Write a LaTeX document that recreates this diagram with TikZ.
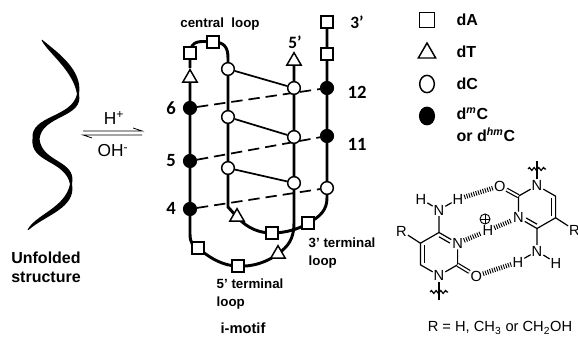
\documentclass[tikz,border=0pt]{standalone}
\usepackage{fontspec}
\setmainfont{Liberation Sans}
\newfontfamily\calib{Carlito}
\usetikzlibrary{shapes.geometric,calc,backgrounds,decorations.pathmorphing}
\tikzset{>=stealth}
\tikzset{
  dA/.style={draw,rectangle,fill=white,line width=1.1pt,minimum size=9pt,inner sep=0pt},
  dT/.style={draw,regular polygon,regular polygon sides=3,fill=white,line width=1.1pt,minimum size=12.5pt,inner sep=0pt},
  dC/.style={draw,circle,fill=white,line width=1.1pt,minimum size=9.5pt,inner sep=0pt},
  dmC/.style={draw,circle,fill=black,line width=1.1pt,minimum size=9.5pt,inner sep=0pt},
  strand/.style={line width=2.2pt},
  lateral/.style={line width=1.3pt},
  pairing/.style={line width=1.3pt,dash pattern=on 8.5pt off 4.5pt},
  atom/.style={inner sep=0.6pt,font=\fontsize{11}{11}\selectfont},
  bond/.style={line width=0.9pt},
  hbond/.style={line width=3.5pt,dash pattern=on 0.7pt off 1.1pt},
  lbl/.style={font=\bfseries\fontsize{10}{13.5}\selectfont,align=left},
  num/.style={font=\calib\bfseries\fontsize{14}{14}\selectfont},
  prime/.style={font=\calib\bfseries\fontsize{13}{13}\selectfont},
}
\begin{document}
\begin{tikzpicture}[x=0.75pt,y=-0.75pt]
\useasboundingbox (0,0) rectangle (578,341);

% unfolded strand
\fill (42.5,40) .. controls (57,52) and (83,70) .. (79,94)
  .. controls (84,118) and (42,115) .. (39.5,139)
  .. controls (42,163) and (77,160) .. (72,184)
  .. controls (76.5,208) and (45.5,215) .. (28.5,230)
  -- (27.5,230) .. controls (34.5,215) and (65.5,208) .. (70,184)
  .. controls (65,160) and (30,163) .. (32.5,139)
  .. controls (30,115) and (72,118) .. (77,94)
  .. controls (73,70) and (47,52) .. (41.5,40) -- cycle;
\node[font=\bfseries\fontsize{12}{14}\selectfont,align=center] (unf) at (46,267) {Unfolded\\structure};

% equilibrium
\coordinate (eqa) at (83,131);
\coordinate (eqb) at (142,131);
\coordinate (eqc) at (142,135);
\coordinate (eqd) at (83,135);
\draw[line width=0.6pt] (eqa) -- (eqb) -- ++(-9,-3);
\draw[line width=0.6pt] (eqc) -- (eqd) -- ++(9,3);
\node[font=\fontsize{13}{13}\selectfont] (hplus) at (114,118) {H\textsuperscript{+}};
\node[font=\fontsize{13}{13}\selectfont] (ohminus) at (113,151) {OH\textsuperscript{-}};

% i-motif: strand 1
\node[dA] (a1) at (190,53) {};
\node[dT] (t1) at (190,78) {};
\node[dmC] (m6) at (190,108) {};
\node[dmC] (m5) at (190,161) {};
\node[dmC] (m4) at (190,209) {};
% 5' terminal loop
\node[dA] (a2) at (198,248) {};
\node[dA] (a3) at (238,266) {};
\node[dT] (t2) at (278,254) {};
% central loop and strand 2
\node[dA] (a4) at (213,42) {};
\node[dC] (c1) at (228,69) {};
\node[dC] (c2) at (228,117) {};
\node[dC] (c3) at (228,168) {};
\node[dT] (t3) at (237,217) {};
% 3' terminal loop
\node[dA] (a5) at (272,233) {};
\node[dA] (a6) at (308,223) {};
% strand 3
\node[dT] (t5) at (294,61) {};
\node[dC] (c6) at (294,88) {};
\node[dC] (c5) at (294,137) {};
\node[dC] (c4) at (294,183) {};
% strand 4
\node[dC] (c7) at (327,188) {};
\node[dmC] (m11) at (327,136) {};
\node[dmC] (m12) at (327,88) {};
\node[dA] (a7) at (327,54) {};
\node[dA] (a8) at (327,22) {};

\begin{scope}[on background layer]
\draw[strand] (t5) -- (c6) -- (c5) -- (c4) -- (294,222)
  .. controls (294,240) and (288,246) .. (t2.center)
  .. controls (268,261) and (255,267) .. (a3.center)
  .. controls (225,266) and (212,260) .. (a2.center)
  .. controls (193,246) and (190,243) .. (190,234) -- (m4) -- (m5) -- (m6) -- (t1) -- (a1.center)
  .. controls (191,40) and (200,41) .. (a4.center)
  .. controls (224,42) and (228,47) .. (228,58) -- (c1) -- (c2) -- (c3) -- (228,207) -- (t3.center)
  .. controls (248,229) and (260,233) .. (a5.center)
  .. controls (285,233) and (300,229) .. (a6.center)
  .. controls (320,217) and (327,210) .. (327,198) -- (c7) -- (m11) -- (m12) -- (a7) -- (a8);
\draw[lateral] (c1) -- (c6);
\draw[lateral] (c2) -- (c5);
\draw[lateral] (c3) -- (c4);
\draw[pairing] (m6) -- (m12);
\draw[pairing] (m5) -- (m11);
\draw[pairing] (m4) -- (c7);
\end{scope}

\node[num] (n6) at (171,108) {6};
\node[num] (n5) at (171,161) {5};
\node[num] (n4) at (171,208) {4};
\node[num] (n12) at (357,92) {12};
\node[num] (n11) at (357,144) {11};
\node[prime] (five) at (295,42) {5’};
\node[prime] (three) at (357,22) {3’};
\node[font=\bfseries\fontsize{10}{10}\selectfont] (cloop) at (220,24) {central\ \ loop};
\node[lbl,anchor=west] (tl3) at (304,253) {3’ terminal\\loop};
\node[lbl,anchor=west] (tl5) at (212,294) {5’ terminal\\loop};
\node[font=\bfseries\fontsize{11}{11}\selectfont] (imotif) at (243,328) {i-motif};

% legend
\node[dA,minimum size=11pt] (ka) at (427,20) {};
\node[dT,minimum size=15pt] (kt) at (427,53) {};
\node[draw,ellipse,line width=1.1pt,minimum width=11pt,minimum height=13pt,inner sep=0pt] (kc) at (427,84) {};
\node[draw,ellipse,fill=black,line width=1.1pt,minimum width=11pt,minimum height=13pt,inner sep=0pt] (km) at (427,116) {};
\begin{scope}[every node/.style={anchor=west,font=\bfseries\fontsize{12}{12}\selectfont}]
\node (la) at (452,20) {dA};
\node (lt) at (452,52) {dT};
\node (lc) at (452,84) {dC};
\node (lm) at (452,114) {d\textsuperscript{\itshape m}C};
\node (lhm) at (452,135) {or d\textsuperscript{\itshape hm}C};
\end{scope}

% hemiprotonated C:C+ pair
\coordinate (cL) at (439,254);
\coordinate (C4) at (439,232.5);
\node[atom] (N3) at (457.6,243.2) {N};
\coordinate (C2) at (457.6,264.8);
\node[atom] (N1) at (439,275.5) {N};
\coordinate (C6) at (420.4,264.8);
\coordinate (C5) at (420.4,243.2);
\node[atom] (N4) at (439,210) {N};
\node[atom] (H4a) at (421,199) {H};
\node[atom] (H4b) at (458,199) {H};
\node[atom] (O2) at (476.2,276) {O};
\node[atom] (R5) at (401.5,231) {R};
\coordinate (W1) at (439,300);

\coordinate (cR) at (537,207);
\coordinate (C4p) at (537,228.5);
\node[atom] (N3p) at (518.4,217.8) {N};
\coordinate (C2p) at (518.4,196.2);
\node[atom] (N1p) at (537,185.5) {N};
\coordinate (C6p) at (555.6,196.2);
\coordinate (C5p) at (555.6,217.8);
\node[atom] (N4p) at (537,251) {N};
\node[atom] (H4c) at (518,262) {H};
\node[atom] (H4d) at (556,263) {H};
\node[atom] (O2p) at (499.8,186) {O};
\node[atom] (R5p) at (574.5,230) {R};
\coordinate (W1p) at (537,161);

\node[atom] (Hc) at (488,230.5) {H};
\node[circle,draw,line width=0.7pt,minimum size=7.5pt,inner sep=0pt] (plus) at (485,219) {};
\draw[line width=0.7pt] (plus.north) -- (plus.south) (plus.west) -- (plus.east);

\draw[bond] (C5) -- (C4) -- (N3) -- (C2) -- (N1) -- (C6) -- (C5);
\draw[bond] ($(C5)!.2!(cL)$) -- ($(C6)!.2!(cL)$);
\draw[bond,shorten >=3.5pt] ($(C4)!.2!(cL)$) -- ($(N3)!.2!(cL)$);
\draw[bond,double,double distance=1.4pt] (C2) -- (O2);
\draw[bond] (C4) -- (N4) -- (H4a);
\draw[bond] (N4) -- (H4b);
\draw[bond] (C5) -- (R5);
\draw[bond] (N1) -- (W1);
\draw[bond,decorate,decoration={snake,amplitude=1.1pt,segment length=3.5pt}] (430,292) -- (448,292);

\draw[bond] (C5p) -- (C4p) -- (N3p) -- (C2p) -- (N1p) -- (C6p) -- (C5p);
\draw[bond] ($(C5p)!.2!(cR)$) -- ($(C6p)!.2!(cR)$);
\draw[bond,shorten >=3.5pt] ($(C4p)!.2!(cR)$) -- ($(N3p)!.2!(cR)$);
\draw[bond,double,double distance=1.4pt] (C2p) -- (O2p);
\draw[bond] (C4p) -- (N4p) -- (H4c);
\draw[bond] (N4p) -- (H4d);
\draw[bond] (C5p) -- (R5p);
\draw[bond] (N1p) -- (W1p);
\draw[bond,decorate,decoration={snake,amplitude=1.1pt,segment length=3.5pt}] (528,169) -- (546,169);

\draw[hbond] (H4b) -- (O2p);
\draw[hbond] (N3) -- (Hc);
\draw[hbond] (Hc) -- (N3p);
\draw[hbond] (O2) -- (H4c);

\node[font=\fontsize{11}{11}\selectfont] (rdef) at (500,328) {R = H, CH\textsubscript{3} or CH\textsubscript{2}OH};
\end{tikzpicture}
\end{document}
